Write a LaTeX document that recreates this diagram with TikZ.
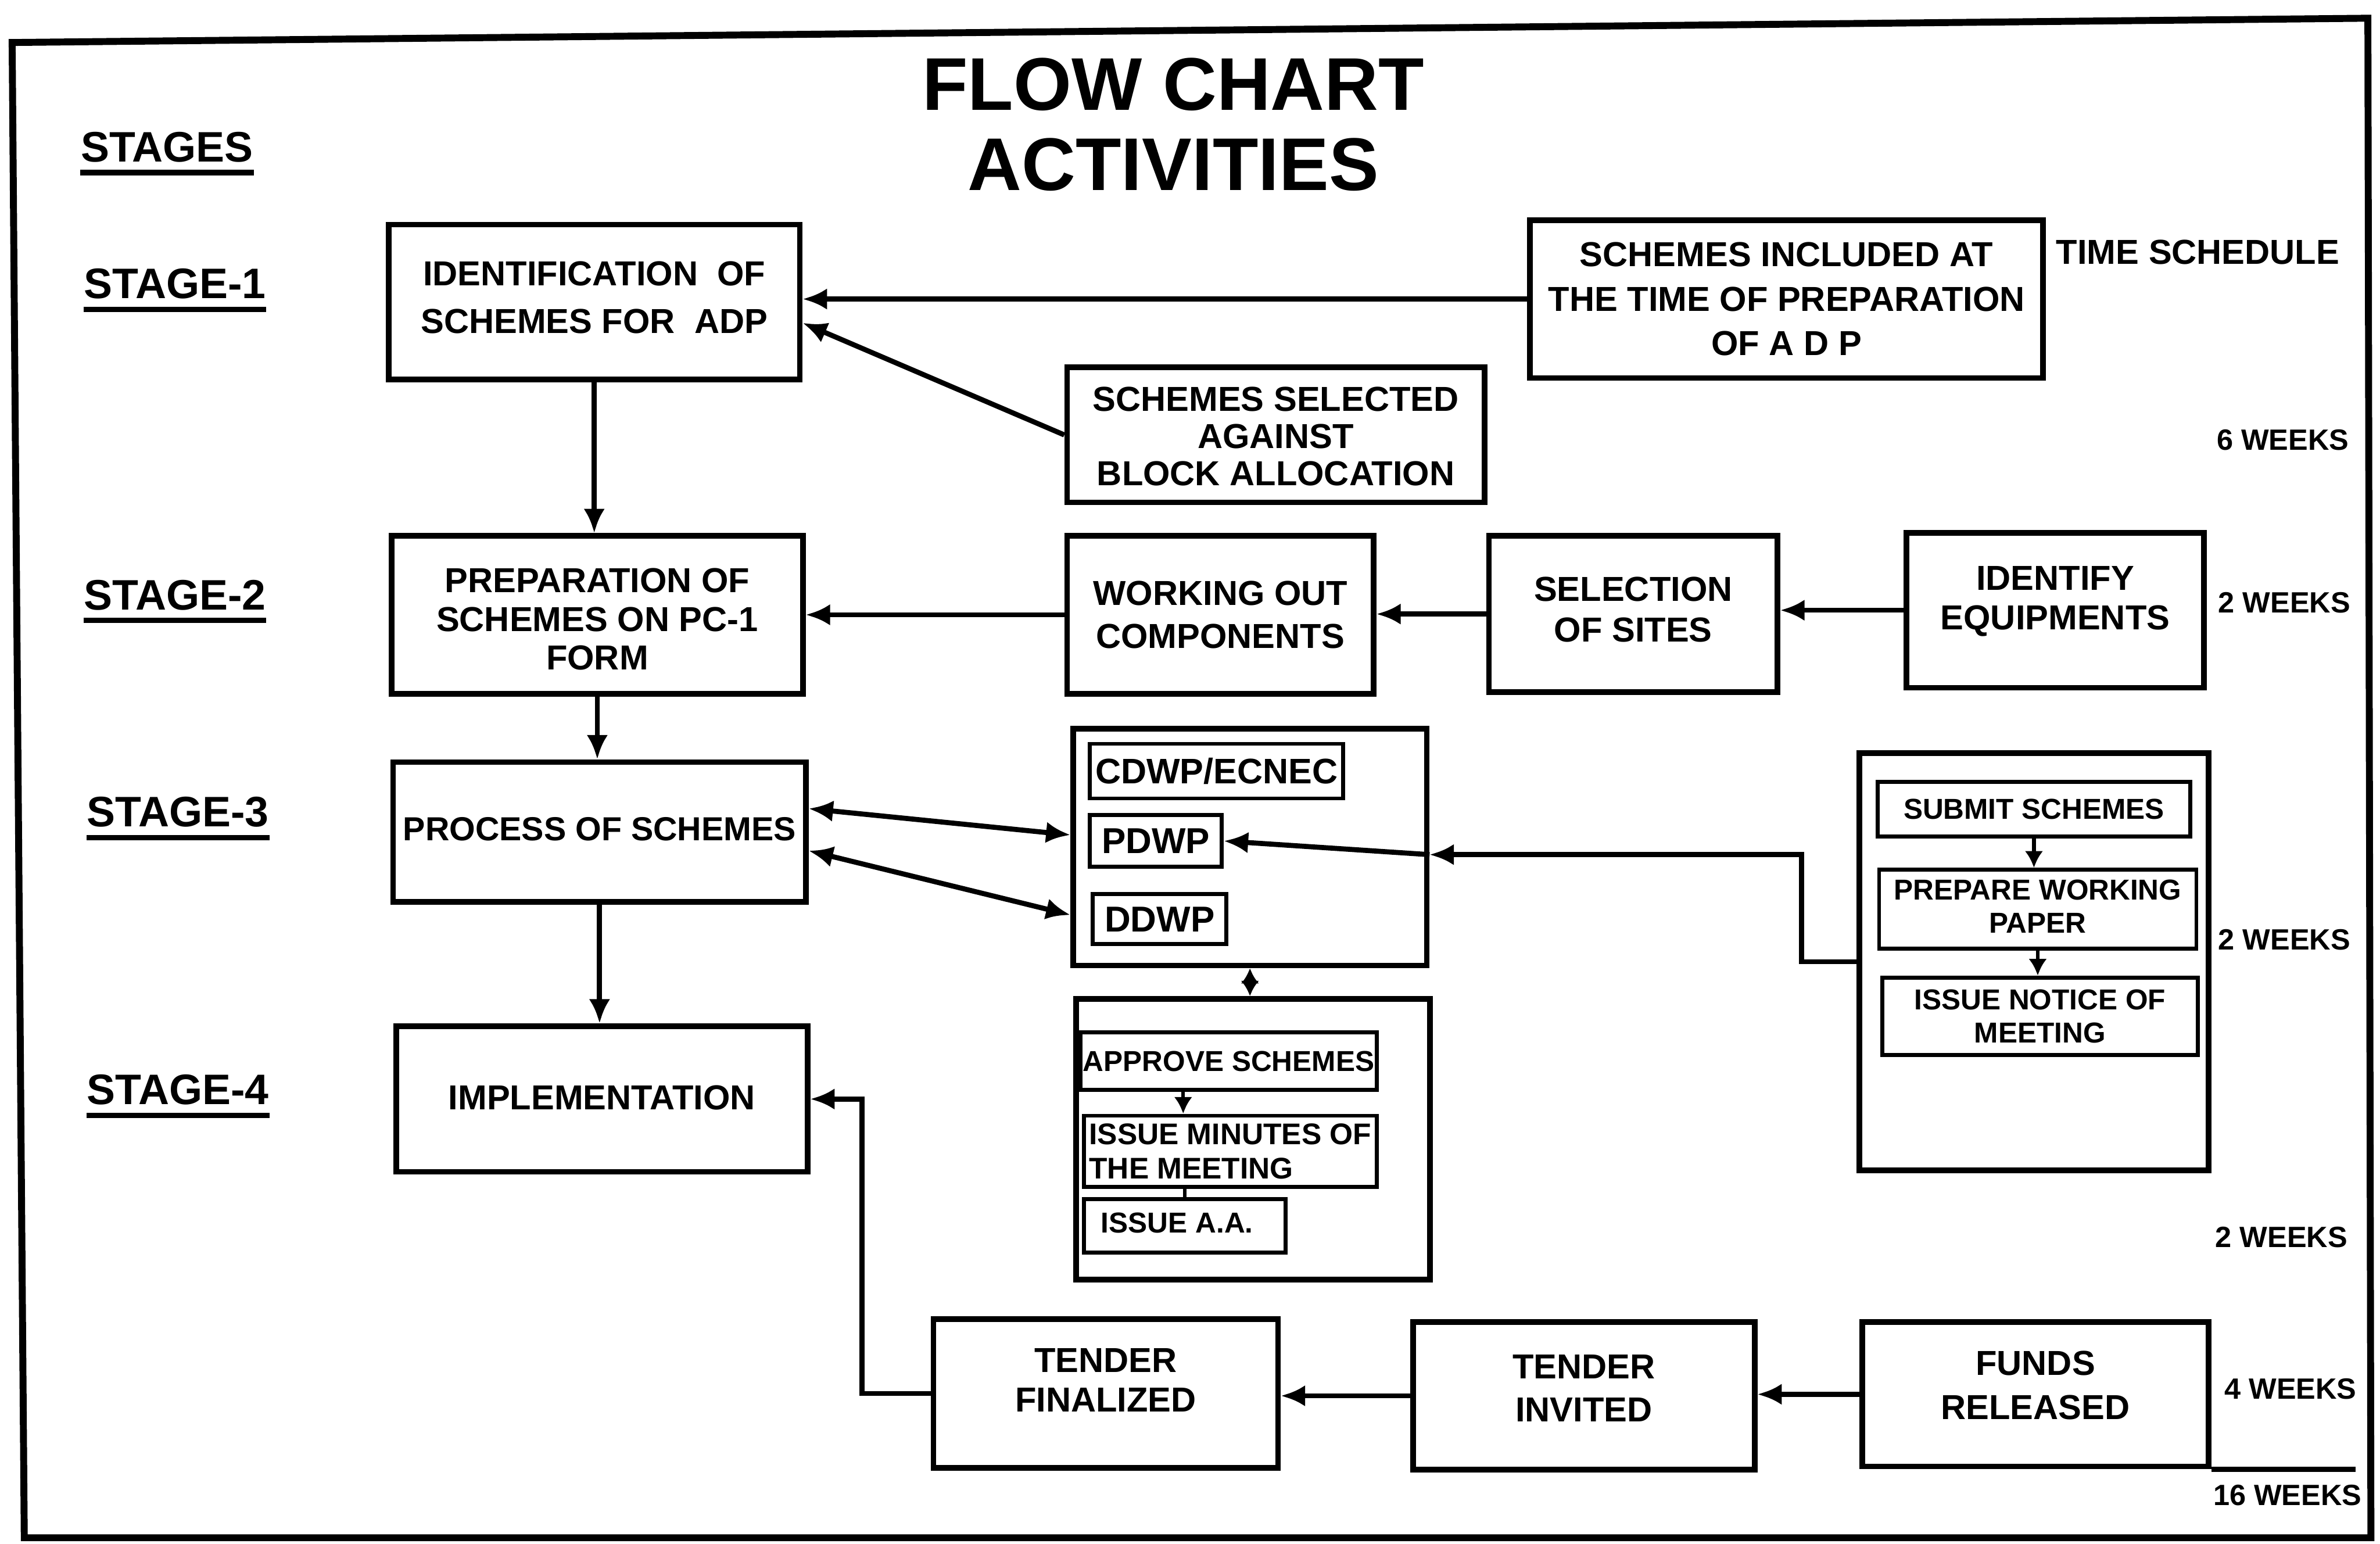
\documentclass[tikz,border=0pt]{standalone}
\usepackage{fontspec}
\setmainfont{Liberation Sans}
\usetikzlibrary{fit,arrows.meta,calc}

\begin{document}
\begin{tikzpicture}[x=0.02cm,y=-0.02cm,
  box/.style={draw, line width=2.1pt, inner sep=0pt},
  grp/.style={draw, line width=2.1pt, inner sep=0pt},
  sub/.style={draw, line width=1.5pt, inner sep=0pt},
  txt/.style={inner sep=0pt, align=center, font=\fontsize{13}{16}\selectfont\bfseries},
  stxt/.style={inner sep=0pt, align=center, font=\fontsize{10.8}{12.5}\selectfont\bfseries},
  stagelbl/.style={anchor=west, inner sep=0pt, font=\fontsize{16}{18}\selectfont\bfseries},
  wk/.style={inner sep=0pt, font=\fontsize{11}{13}\selectfont\bfseries},
  ul/.style={line width=2pt},
  ln/.style={line width=1.9pt},
  arr/.style={line width=1.9pt, -{Latex[length=3.2mm,width=2.8mm]}},
  darr/.style={line width=1.9pt, {Latex[length=3.2mm,width=2.8mm]}-{Latex[length=3.2mm,width=2.8mm]}},
  darrs/.style={line width=1.6pt, {Latex[length=2mm,width=2.4mm]}-{Latex[length=2mm,width=2.4mm]}},
  tip/.style={line width=1.4pt, -{Latex[length=2.2mm,width=2.4mm]}},
]
\useasboundingbox (0,0) rectangle (1568,1017);

% outer frame
\draw[line width=2.6pt] (8,28) -- (1560,12) -- (1562,1013) -- (16,1013) -- cycle;

% title
\node[align=center, inner sep=0pt, font=\fontsize{28}{30}\selectfont\bfseries] (title) at (773,82) {FLOW CHART\\ACTIVITIES};

% stage labels
\node[stagelbl] (stg) at (53,97) {STAGES};
\node[stagelbl] (s1) at (55,187) {STAGE-1};
\node[stagelbl] (s2) at (55,392) {STAGE-2};
\node[stagelbl] (s3) at (57,535) {STAGE-3};
\node[stagelbl] (s4) at (57,718) {STAGE-4};
\foreach \n in {stg,s1,s2,s3,s4}
  \draw[ul] ([yshift=-4pt]\n.base west) -- ([yshift=-4pt]\n.base east);

% time schedule column
\node[inner sep=0pt, font=\fontsize{13}{15}\selectfont\bfseries] (ts) at (1448,166) {TIME SCHEDULE};
\node[wk] (w6) at (1504,290) {6 WEEKS};
\node[wk] (w2a) at (1505,397) {2 WEEKS};
\node[wk] (w2b) at (1505,619) {2 WEEKS};
\node[wk] (w2c) at (1503,815) {2 WEEKS};
\node[wk] (w4) at (1509,915) {4 WEEKS};
\node[wk] (w16) at (1507,985) {16 WEEKS};

% ---------- boxes ----------
% stage 1
\node[box, fit={(256,148) (527,250)}] (id) {};
\node[txt, font=\fontsize{13}{18}\selectfont\bfseries] (id-t) at ($(id)+(0,-3)$)
  {IDENTIFICATION\ \ OF\\SCHEMES FOR\ \ ADP};
\node[box, fit={(1008,145) (1346,249)}] (sia) {};
\node[txt, font=\fontsize{13}{16.7}\selectfont\bfseries] (sia-t) at (sia)
  {SCHEMES INCLUDED AT\\THE TIME OF PREPARATION\\OF A D P};
\node[box, fit={(703,242) (978,331)}] (ssa) {};
\node[txt, font=\fontsize{13}{14}\selectfont\bfseries] (ssa-t) at ($(ssa)+(0,1)$)
  {SCHEMES SELECTED\\AGAINST\\BLOCK ALLOCATION};

% stage 2
\node[box, fit={(258,353) (529,457)}] (pp) {};
\node[txt, font=\fontsize{13}{14.5}\selectfont\bfseries] (pp-t) at ($(pp)+(0,3)$)
  {PREPARATION OF\\SCHEMES ON PC-1\\FORM};
\node[box, fit={(703,353) (905,457)}] (woc) {};
\node[txt] (woc-t) at (woc) {WORKING OUT\\COMPONENTS};
\node[box, fit={(981,353) (1171,456)}] (sos) {};
\node[txt, font=\fontsize{13}{15.3}\selectfont\bfseries] (sos-t) at ($(sos)+(0,-3)$) {SELECTION\\OF SITES};
\node[box, fit={(1256,351) (1452,453)}] (ie) {};
\node[txt, font=\fontsize{13}{14.8}\selectfont\bfseries] (ie-t) at ($(ie)+(0,-6)$) {IDENTIFY\\EQUIPMENTS};

% stage 3
\node[box, fit={(259,502) (531,594)}] (ps) {};
\node[txt, font=\fontsize{12.5}{15}\selectfont\bfseries] (ps-t) at ($(ps)+(0,-2)$) {PROCESS OF SCHEMES};

\node[grp, fit={(707,480) (940,636)}] (g1) {};
\node[sub, fit={(718,490) (885,526)}] (cdwp) {};
\node[stxt, font=\fontsize{13.3}{15}\selectfont\bfseries] (cdwp-t) at (cdwp) {CDWP/ECNEC};
\node[sub, fit={(718,537) (805,571)}] (pdwp) {};
\node[stxt, font=\fontsize{13.5}{15}\selectfont\bfseries] (pdwp-t) at (pdwp) {PDWP};
\node[sub, fit={(720,589) (808,622)}] (ddwp) {};
\node[stxt, font=\fontsize{13.5}{15}\selectfont\bfseries] (ddwp-t) at (ddwp) {DDWP};

\node[grp, fit={(709,658) (942,843)}] (g2) {};
\node[sub, fit={(712,680) (907,718)}] (appr) {};
\node[stxt] (appr-t) at (appr) {APPROVE SCHEMES};
\node[sub, fit={(714,735) (907,782)}] (mins) {};
\node[stxt, align=left, font=\fontsize{11.2}{13}\selectfont\bfseries] (mins-t) at (mins) {ISSUE MINUTES OF\\THE MEETING};
\node[sub, fit={(714,790) (847,825)}] (issaa) {};
\node[stxt] (issaa-t) at ($(issaa)+(-5,-2)$) {ISSUE A.A.};

\node[grp, fit={(1225,496) (1455,771)}] (g3) {};
\node[sub, fit={(1237,515) (1443,551)}] (subm) {};
\node[stxt] (subm-t) at (subm) {SUBMIT SCHEMES};
\node[sub, fit={(1238,573) (1447,625)}] (prep) {};
\node[stxt] (prep-t) at ($(prep)+(0,-2)$) {PREPARE WORKING\\PAPER};
\node[sub, fit={(1240,644) (1448,695)}] (notice) {};
\node[stxt] (notice-t) at (notice) {ISSUE NOTICE OF\\MEETING};

% stage 4
\node[box, fit={(261,676) (532,772)}] (imp) {};
\node[txt] (imp-t) at ($(imp)+(0,-1)$) {IMPLEMENTATION};
\node[box, fit={(615,869) (842,967)}] (tf) {};
\node[txt, font=\fontsize{13}{14.8}\selectfont\bfseries] (tf-t) at ($(tf)+(0,-9)$) {TENDER\\FINALIZED};
\node[box, fit={(931,871) (1156,968)}] (ti) {};
\node[txt] (ti-t) at ($(ti)+(0,-5)$) {TENDER\\INVITED};
\node[box, fit={(1227,871) (1455,966)}] (fr) {};
\node[txt, font=\fontsize{13}{16.5}\selectfont\bfseries] (fr-t) at ($(fr)+(0,-6)$) {FUNDS\\RELEASED};

% ---------- connectors ----------
% stage 1
\draw[arr] (sia.west) -- (sia.west -| id.east);
\draw[arr] (ssa.west) -- ($(id.north east)!0.63!(id.south east)$);
\draw[arr] (id.south) -- (id.south |- pp.north);

% stage 2
\draw[arr] (ie.west) -- (ie.west -| sos.east);
\draw[arr] (sos.west) -- (sos.west -| woc.east);
\draw[arr] (woc.west) -- (woc.west -| pp.east);
\draw[arr] (pp.south) -- (pp.south |- ps.north);

% stage 3
\draw[darr] ($(ps.north east)!0.34!(ps.south east)$) -- ($(g1.north west)!0.45!(g1.south west)$);
\draw[darr] ($(ps.north east)!0.63!(ps.south east)$) -- ($(g1.north west)!0.78!(g1.south west)$);
\coordinate (j) at (1187,563);
\draw[arr] (g3.west) -| (j) -- (j -| g1.east);
\draw[arr] (j -| g1.east) -- (pdwp.east);
\draw[darrs] (g1.south) -- (g1.south |- g2.north);

\coordinate (a1) at ($(appr.south)+(-30,0)$);
\draw[tip] (a1) -- (a1 |- mins.north);
\coordinate (a2) at ($(mins.south)+(-30,0)$);
\draw[line width=1.4pt] (a2) -- (a2 |- issaa.north);
\draw[tip] (subm.south) -- (subm.south |- prep.north);
\draw[tip] (prep.south) -- (prep.south |- notice.north);

% stage 4
\draw[arr] (ps.south) -- (ps.south |- imp.north);
\draw[arr] (fr.west) -- (fr.west -| ti.east);
\draw[arr] (ti.west) -- (ti.west -| tf.east);
\coordinate (k) at (tf.west -| 568,0);
\draw[arr] (tf.west) -- (k) |- (imp.east);
\draw[ln] (fr.south east) -- ++(95,0);

\end{tikzpicture}
\end{document}
